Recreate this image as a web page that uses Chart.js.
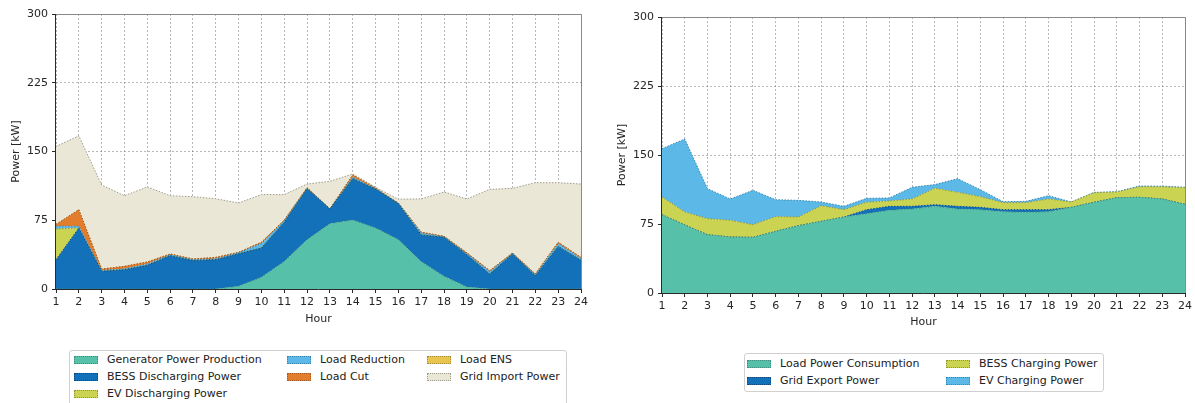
<!DOCTYPE html>
<html>
<head>
<meta charset="utf-8">
<script src="https://cdn.jsdelivr.net/npm/chart.js@4/dist/chart.umd.min.js"></script>
<style>
  html, body { margin: 0; padding: 0; background: #fff; width: 1195px; height: 403px; overflow: hidden; }
  body { position: relative; font-family: "DejaVu Sans", sans-serif; }
  canvas { position: absolute; top: 0; }
  #leftChart { left: 0; }
  #rightChart { left: 600px; }
  .legend {
    position: absolute; background: #fff; border: 1px solid #d0d0d0; border-radius: 3px;
    box-sizing: border-box; font-size: 11px; color: #222;
  }
  .legend .item { position: absolute; height: 14px; line-height: 14px; white-space: nowrap; }
  .legend .sw {
    position: absolute; left: 0; top: 3px; width: 22px; height: 6px;
    border: 1px dotted; box-sizing: content-box;
  }
  .legend .lbl { position: absolute; left: 33px; top: 0; }
</style>
</head>
<body>
<canvas id="leftChart" width="600" height="340"></canvas>
<canvas id="rightChart" width="595" height="340"></canvas>
<div id="leftLegend" class="legend" style="left:69px; top:350px; width:498px; height:60px;"></div>
<div id="rightLegend" class="legend" style="left:744px; top:353px; width:360px; height:39px;"></div>
<script>
// Hours of the day shown on the x axis
const hours = ['1','2','3','4','5','6','7','8','9','10','11','12','13','14','15','16','17','18','19','20','21','22','23','24'];
const powerTicks = [0, 75, 150, 225, 300];

// Supply side (kW), stacked in this order
const genProduction = [0, 0, 0, 0, 0, 0, 0, 0, 3, 12.7, 30, 53.8, 71.3, 75.3, 66.5, 53.8, 29.8, 13.8, 2.2, 0, 0, 0, 0, 0];
const bessDischarge = [32, 66.5, 19.3, 21, 25.8, 36.4, 31, 32, 35.5, 32, 42.7, 55.7, 16, 45.1, 42.5, 39.2, 29.2, 42.6, 35.3, 16.4, 38.2, 14.5, 46.5, 31.3];
const evDischarge = [33.5, 0, 0, 0, 0, 0, 0, 0, 0, 0, 0, 0, 0, 0, 0, 0, 0, 0, 0, 0, 0, 0, 0, 0];
const loadReduction = [3, 2, 1, 1, 1.5, 1, 1, 1, 1, 5, 1.5, 0.5, 0, 1.5, 0.5, 0.5, 2, 0.5, 1, 2.5, 0.5, 1, 3, 2];
const loadCut = [2, 18, 1.5, 2.7, 2.2, 0.8, 0.7, 1.5, 0.5, 1.3, 1, 0.5, 0, 2.5, 0.5, 0.3, 1, 0.6, 1, 1.1, 0.6, 0.9, 1.5, 1.2];
const loadEns = [0, 0, 0, 0, 0, 0, 0, 0, 0, 0, 0, 0, 0, 0, 0, 0, 0, 0, 0, 0, 0, 0, 0, 0];
const gridImport = [85.1, 80.5, 91.7, 77.1, 81.8, 63.6, 68, 64, 53.8, 52, 27.8, 4, 30.2, 1.1, 1, 4.2, 36.3, 48.3, 58.7, 88.7, 70.5, 99.6, 65, 80];

// Demand side (kW), stacked in this order
const loadConsumption = [85.1, 74, 63.4, 60.9, 60.5, 67, 73.2, 77.9, 82.6, 86.2, 89.9, 91.3, 94.2, 91.3, 90.6, 88.4, 87.7, 88.4, 93.1, 98.6, 103.6, 104, 102.2, 96.4];
const gridExport = [0, 0, 0, 0, 0, 0, 0, 0, 0, 4.4, 4.3, 2.9, 1.8, 2.9, 2.5, 2.2, 2.9, 2.2, 0, 0, 0, 0, 0, 0];
const bessCharging = [19.2, 14, 17.4, 18.1, 13.8, 16, 9.4, 17, 8, 8, 5.8, 8, 17.8, 15.2, 11.6, 7.6, 7.6, 11.6, 5.8, 10.4, 6.2, 11.6, 13.4, 18.1];
const evCharging = [52.6, 79.4, 32.6, 23.2, 37.3, 18.4, 18.1, 4, 3.6, 4.3, 3.3, 12.7, 4, 14.9, 7.6, 1.1, 1.4, 3.6, 0, 0.4, 0.3, 0.7, 0.5, 0.4];

const COLORS = {
  teal:   ['#57c0a9', '#3d8f7d'],
  blue:   ['#1271b9', '#0a4a80'],
  lime:   ['#cbd452', '#8f9638'],
  sky:    ['#5cb8e6', '#3787b3'],
  orange: ['#e27d2d', '#a9591c'],
  gold:   ['#e9c54e', '#a88c33'],
  beige:  ['#ebe7d6', '#9e9b8e']
};

function area(label, data, color, first) {
  return {
    label, data,
    backgroundColor: color[0],
    borderColor: color[1],
    borderWidth: 1,
    borderDash: [1.5, 1.5],
    pointRadius: 0,
    pointHoverRadius: 0,
    tension: 0,
    fill: first ? 'origin' : '-1'
  };
}

// Frame around the plotting area
const frame = {
  id: 'frame',
  afterDraw(chart) {
    const { ctx, chartArea: a } = chart;
    ctx.save();
    ctx.lineWidth = 1;
    ctx.strokeStyle = '#8a8a8a';
    ctx.beginPath();
    ctx.moveTo(a.left, a.top + 0.5); ctx.lineTo(a.right + 0.5, a.top + 0.5); ctx.lineTo(a.right + 0.5, a.bottom);
    ctx.stroke();
    ctx.strokeStyle = '#2a2a2a';
    ctx.beginPath();
    ctx.moveTo(a.left - 0.5, a.top); ctx.lineTo(a.left - 0.5, a.bottom + 0.5); ctx.lineTo(a.right + 0.5, a.bottom + 0.5);
    ctx.stroke();
    ctx.restore();
  }
};

function makeOptions(yWidth, xHeight, pad, yTitlePad, xTitlePad) {
  const tickFont = { family: 'DejaVu Sans', size: 11 };
  const gridStyle = {
    color: 'rgba(105,105,105,0.6)', lineWidth: 0.8,
    tickLength: 4, tickColor: '#2a2a2a', tickBorderDash: [], tickWidth: 1
  };
  return {
    responsive: false,
    animation: false,
    layout: { padding: pad },
    plugins: { legend: { display: false }, tooltip: { enabled: false } },
    scales: {
      x: {
        type: 'category',
        offset: false,
        z: 1,
        afterFit: s => { s.height = xHeight; },
        grid: gridStyle,
        border: { display: false, dash: [2, 2] },
        ticks: { color: '#262626', font: tickFont, padding: 3, maxRotation: 0, autoSkip: false },
        title: { display: true, text: 'Hour', color: '#262626', font: tickFont, padding: { top: 0, bottom: xTitlePad } }
      },
      y: {
        stacked: true,
        min: 0, max: 300,
        z: 1,
        afterFit: s => { s.width = yWidth; },
        afterBuildTicks: s => { s.ticks = powerTicks.map(v => ({ value: v })); },
        grid: gridStyle,
        border: { display: false, dash: [2, 2] },
        ticks: { color: '#262626', font: tickFont, padding: 4 },
        title: { display: true, text: 'Power [kW]', color: '#262626', font: tickFont, padding: { top: yTitlePad, bottom: 0 } }
      }
    }
  };
}

const leftChart = new Chart(document.getElementById('leftChart'), {
  type: 'line',
  data: {
    labels: hours,
    datasets: [
      area('Generator Power Production', genProduction, COLORS.teal, true),
      area('BESS Discharging Power', bessDischarge, COLORS.blue),
      area('EV Discharging Power', evDischarge, COLORS.lime),
      area('Load Reduction', loadReduction, COLORS.sky),
      area('Load Cut', loadCut, COLORS.orange),
      area('Load ENS', loadEns, COLORS.gold),
      area('Grid Import Power', gridImport, COLORS.beige)
    ]
  },
  options: makeOptions(56, 51, { top: 14, right: 19, bottom: 0, left: 0 }, 9.5, 14),
  plugins: [frame]
});

const rightChart = new Chart(document.getElementById('rightChart'), {
  type: 'line',
  data: {
    labels: hours,
    datasets: [
      area('Load Power Consumption', loadConsumption, COLORS.teal, true),
      area('Grid Export Power', gridExport, COLORS.blue),
      area('BESS Charging Power', bessCharging, COLORS.lime),
      area('EV Charging Power', evCharging, COLORS.sky)
    ]
  },
  options: makeOptions(62, 47, { top: 17, right: 8, bottom: 0, left: 0 }, 15.5, 11.5),
  plugins: [frame]
});

// Legends below each chart, filled column by column
function buildLegend(chart, el, columns, colX, rowY) {
  let idx = 0;
  columns.forEach((count, col) => {
    for (let row = 0; row < count; row++, idx++) {
      const ds = chart.data.datasets[idx];
      const item = document.createElement('div');
      item.className = 'item';
      item.style.left = colX[col] + 'px';
      item.style.top = rowY[row] + 'px';
      const sw = document.createElement('span');
      sw.className = 'sw';
      sw.style.background = ds.backgroundColor;
      sw.style.borderColor = ds.borderColor;
      const lbl = document.createElement('span');
      lbl.className = 'lbl';
      lbl.textContent = ds.label;
      item.appendChild(sw); item.appendChild(lbl);
      el.appendChild(item);
    }
  });
}
buildLegend(leftChart, document.getElementById('leftLegend'), [3, 2, 2], [4, 217, 357], [2, 19, 36]);
buildLegend(rightChart, document.getElementById('rightLegend'), [2, 2], [2, 201], [3, 20]);
</script>
</body>
</html>
